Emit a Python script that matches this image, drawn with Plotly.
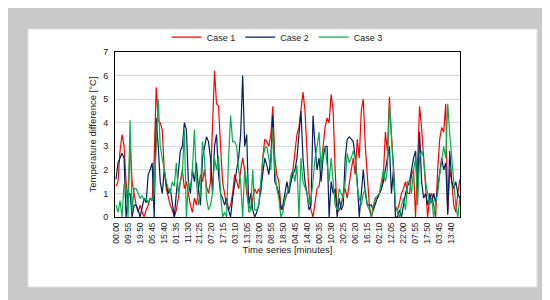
import plotly.graph_objects as go

# time axis: one sample every 100 minutes
minutes = list(range(0, 17200, 100))

case1 = [1.3, 1.5, 2.8, 3.5, 3.0, 1.5, 0.7, 3.2, 1.5, 1.0,
         0.5, 0.2, 0.5, 0.2, 0.0, 0.3, 0.5, 0.8, 0.7, 2.5,
         5.5, 4.1, 4.0, 3.7, 2.0, 1.2, 0.8, 0.5, 0.3, 0.0,
         0.3, 0.8, 1.5, 2.0, 1.2, 1.5, 1.0, 0.5, 0.2, 0.8,
         0.5, 1.2, 1.8, 1.5, 2.0, 1.3, 1.0, 1.5, 3.5, 6.2,
         4.8, 4.7, 3.0, 1.5, 1.0, 0.5, 0.3, 0.5, 1.0, 1.8,
         1.5, 1.2, 2.0, 2.5, 2.0, 1.0, 0.5, 0.3, 0.8, 1.2,
         1.0, 1.2, 1.0, 2.5, 3.3, 3.2, 3.0, 3.5, 4.7, 2.5,
         1.8, 1.5, 0.5, 0.3, 0.7, 1.0, 1.2, 1.5, 2.0, 2.8,
         3.5, 3.8, 4.5, 5.3, 4.5, 3.0, 1.0, 0.3, 0.0, 0.6,
         1.2, 1.3, 2.0, 3.0, 3.8, 4.2, 4.0, 5.2, 4.5, 2.0,
         0.2, 0.3, 0.5, 1.0, 1.2, 0.8, 1.5, 2.0, 2.5, 1.8,
         3.3, 2.5, 4.5, 5.0, 3.0, 1.5, 0.5, 0.0, 0.3, 0.8,
         0.8, 1.0, 1.2, 1.8, 3.6, 2.8, 5.1, 3.5, 2.2, 0.3,
         0.3, 0.6, 1.0, 1.2, 1.5, 1.0, 1.0, 1.8, 2.0, 0.0,
         2.8, 4.7, 3.8, 2.5, 1.0, 0.0, 0.8, 1.0, 0.5, 0.0,
         2.0, 3.3, 3.8, 3.6, 4.8, 0.2, 2.0, 1.5, 0.5, 0.2, 1.0, 1.6]

case2 = [1.6, 2.3, 2.5, 2.7, 2.5, 0.0, 0.9, 1.0, 0.0, 0.5,
         0.5, 0.3, 0.0, 0.4, 0.8, 0.6, 1.8, 2.0, 2.3, 0.0,
         4.2, 3.0, 1.5, 1.0, 2.0, 1.4, 1.0, 1.2, 0.5, 0.0,
         1.0, 2.0, 2.8, 3.0, 4.0, 3.7, 1.5, 1.0, 2.0, 1.5,
         2.3, 1.2, 0.5, 2.5, 3.0, 3.4, 3.2, 2.5, 1.0, 3.0,
         3.5, 1.8, 1.0, 0.8, 0.5, 0.8, 0.3, 0.0, 0.8, 1.5,
         2.0, 2.5, 3.5, 6.0, 3.0, 3.5, 0.5, 1.0, 0.3, 0.0,
         0.2, 0.5, 1.2, 1.8, 2.5, 2.2, 1.8, 2.5, 4.3, 1.5,
         1.3, 1.0, 0.3, 0.5, 1.0, 1.5, 1.0, 1.5, 1.8, 2.0,
         2.5, 3.5, 4.5, 2.5, 1.5, 1.0, 0.3, 0.5, 4.3, 3.0,
         2.0, 2.5, 1.5, 2.5, 3.0, 3.0, 0.0, 1.5, 1.0, 1.2,
         0.0, 0.8, 0.3, 0.5, 2.5, 3.3, 3.4, 3.3, 3.2, 2.5,
         1.5, 0.0, 1.0, 2.0, 1.0, 0.5, 0.5, 0.5, 0.3, 0.6,
         0.8, 1.0, 1.2, 1.5, 2.0, 2.5, 3.0, 1.0, 2.0, 0.0,
         0.0, 0.3, 0.0, 0.5, 1.0, 1.3, 1.5, 2.0, 2.5, 2.8,
         1.0, 3.6, 1.5, 0.8, 1.0, 0.5, 1.0, 0.6, 1.0, 0.6,
         1.2, 1.7, 2.5, 2.0, 2.3, 0.1, 2.8, 1.5, 1.2, 1.5, 1.0, 0.8]

case3 = [0.5, 0.2, 0.7, 0.0, 1.4, 1.2, 0.0, 4.1, 0.2, 1.2,
         1.2, 1.0, 0.8, 0.9, 0.7, 0.8, 0.6, 0.8, 0.7, 1.0,
         3.0, 5.0, 3.0, 2.5, 2.0, 1.5, 1.2, 1.0, 1.5, 1.3,
         2.3, 1.0, 1.5, 1.8, 3.7, 0.0, 1.5, 1.2, 2.0, 3.7,
         1.5, 0.5, 1.0, 3.2, 2.5, 0.8, 0.3, 0.5, 1.0, 2.5,
         2.0, 2.6, 1.0, 0.0, 0.2, 0.0, 2.5, 4.3, 3.2, 3.2,
         3.0, 2.0, 1.5, 0.0, 2.0, 1.5, 0.2, 0.3, 2.0, 0.3,
         0.3, 0.5, 1.5, 2.5, 2.9, 3.0, 2.5, 2.0, 3.8, 2.0,
         1.2, 0.8, 0.0, 0.2, 0.8, 1.0, 1.2, 1.8, 2.0, 1.5,
         2.2, 0.0, 2.5, 1.5, 1.2, 1.0, 0.5, 0.8, 1.5, 2.5,
         3.0, 3.6, 2.0, 2.8, 3.0, 2.2, 1.5, 2.5, 1.3, 0.5,
         0.3, 1.2, 1.0, 0.8, 1.5, 2.7, 2.3, 2.5, 2.8, 2.5,
         1.3, 0.8, 0.5, 1.0, 1.2, 0.5, 0.3, 0.0, 0.5, 0.8,
         0.9, 1.0, 1.5, 2.0, 1.5, 2.0, 4.8, 3.5, 2.0, 0.5,
         0.2, 0.0, 0.5, 0.8, 0.3, 1.5, 1.5, 1.0, 2.0, 2.5,
         0.5, 2.5, 2.8, 2.5, 1.5, 1.0, 0.5, 0.8, 0.0, 0.6,
         1.0, 1.8, 2.5, 3.0, 2.5, 4.8, 3.5, 2.5, 1.5, 0.5, 0.0, 0.8]

tick_labels = ["00:00", "09:55", "19:50", "05:45", "15:40", "01:35", "11:30",
               "21:25", "07:20", "17:15", "03:10", "13:05", "23:00", "08:55",
               "18:50", "04:45", "14:40", "00:35", "10:30", "20:25", "06:20",
               "16:15", "02:10", "12:05", "22:00", "07:55", "17:50", "03:45",
               "13:40"]
tick_step = 595  # minutes between labels
tick_vals = [i * tick_step for i in range(len(tick_labels))]

font = "Liberation Sans"

fig = go.Figure()
fig.add_trace(go.Scatter(x=minutes, y=case1, mode="lines", name="Case 1",
                         line=dict(color="#ff0000", width=1.2)))
fig.add_trace(go.Scatter(x=minutes, y=case2, mode="lines", name="Case 2",
                         line=dict(color="#002060", width=1.2)))
fig.add_trace(go.Scatter(x=minutes, y=case3, mode="lines", name="Case 3",
                         line=dict(color="#00b050", width=1.2)))

# white card on grey page
fig.add_shape(type="rect", xref="paper", yref="paper",
              x0=-0.252, x1=1.223, y0=-0.424, y1=1.139,
              fillcolor="white", line=dict(color="#e4e4e4", width=1), layer="below")

fig.update_layout(
    width=550, height=300,
    paper_bgcolor="#c9c9c9", plot_bgcolor="white",
    margin=dict(l=107, r=98, t=44, b=91),
    font=dict(family=font, size=9, color="#222"),
    showlegend=True,
    legend=dict(orientation="h", x=0.47, xanchor="center", y=1.09, yanchor="middle",
                bgcolor="rgba(0,0,0,0)", font=dict(size=9), itemwidth=30),
)
fig.update_xaxes(range=[-50, 17110], tickvals=tick_vals, ticktext=tick_labels,
                 tickangle=-90, showgrid=False, zeroline=False, ticklabelstandoff=1,
                 tickfont=dict(size=8.5),
                 showline=True, linecolor="black", linewidth=1, mirror=True,
                 title=dict(text="Time series [minutes]", font=dict(size=9.5), standoff=0))
fig.update_yaxes(range=[0, 7], dtick=1, showgrid=True, gridcolor="#d9d9d9", gridwidth=1,
                 zeroline=False, showline=True, linecolor="black", linewidth=1, mirror=True,
                 ticklabelstandoff=4,
                 title=dict(text="Temperature difference [°C]", font=dict(size=9.5), standoff=4))

fig.write_html("out.html")
